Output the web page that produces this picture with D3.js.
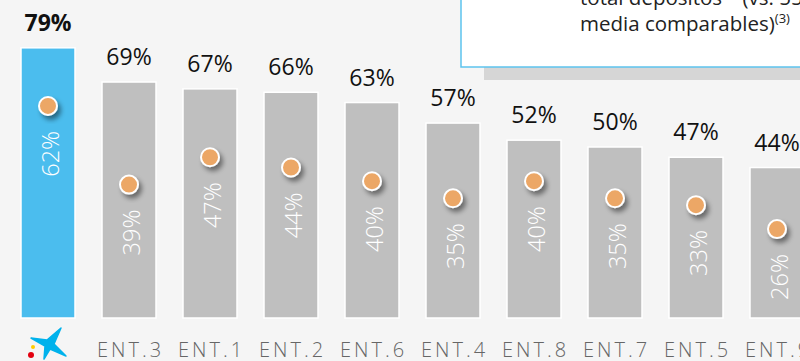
<!DOCTYPE html>
<html>
<head>
<meta charset="utf-8">
<script src="https://cdn.jsdelivr.net/npm/d3@7"></script>
<style>
  html, body { margin: 0; padding: 0; background: #f5f5f5; }
  svg { display: block; font-family: "Open Sans", "Noto Sans", sans-serif; }
</style>
</head>
<body>
<div id="chart"></div>
<script>
// data
const categories = ["CaixaBank", "ENT.3", "ENT.1", "ENT.2", "ENT.6", "ENT.4", "ENT.8", "ENT.7", "ENT.5", "ENT.9"];
const barValues = [79, 69, 67, 66, 63, 57, 52, 50, 47, 44];
const dotValues = [62, 39, 47, 44, 40, 35, 40, 35, 33, 26];

var width = 800, height = 361;

const svg = d3.select("#chart")
  .append("svg")
  .attr("width", width)
  .attr("height", height);

svg.append("rect")
  .attr("width", width)
  .attr("height", height)
  .attr("fill", "#f5f5f5");

// drop shadow for the dots
const defs = svg.append("defs");
defs.append("filter")
  .attr("id", "dotShadow")
  .attr("x", "-50%").attr("y", "-50%")
  .attr("width", "200%").attr("height", "200%")
  .append("feDropShadow")
  .attr("dx", 3)
  .attr("dy", 4)
  .attr("stdDeviation", 2.5)
  .attr("flood-color", "#000")
  .attr("flood-opacity", 0.45);

// scales
var x = d3.scaleBand()
  .domain(categories)
  .range([21, 804])
  .paddingInner(1 / 3)
  .paddingOuter(0);

var y = d3.scaleLinear()
  .domain([0, 100])
  .range([318, -24]);

const rows = categories.map((c, i) => ({ cat: c, bar: barValues[i], dot: dotValues[i], first: i === 0 }));

// callout box (top right, partly off screen)
svg.append("rect")
  .attr("x", 484).attr("y", -10)
  .attr("width", 400).attr("height", 90)
  .attr("fill", "#d6d6d6");

svg.append("rect")
  .attr("x", 461).attr("y", -10)
  .attr("width", 400).attr("height", 77)
  .attr("fill", "#fff")
  .attr("stroke", "#5cc3ee")
  .attr("stroke-width", 1.5);

const note = svg.append("text")
  .attr("font-size", 20.5)
  .attr("fill", "#222");
const line1 = note.append("tspan").attr("x", 580).attr("y", 5);
line1.append("tspan").text("total depósitos");
line1.append("tspan").attr("font-size", 13).attr("dy", -10).text("(2)");
line1.append("tspan").attr("dy", 10).text(" (vs. 55% de");
const line2 = note.append("tspan").attr("x", 580).attr("y", 31);
line2.append("tspan").text("media comparables)");
line2.append("tspan").attr("font-size", 13).attr("dy", -8).text("(3)");

// bars
svg.append("g")
  .selectAll("rect")
  .data(rows)
  .join("rect")
  .attr("x", d => x(d.cat))
  .attr("y", d => y(d.bar))
  .attr("width", x.bandwidth())
  .attr("height", d => y(0) - y(d.bar))
  .attr("fill", d => d.first ? "#4bbdee" : "#bfbfbf")
  .attr("stroke", "#fff")
  .attr("stroke-width", 1.5);

// value on top of each bar
svg.append("g")
  .selectAll("text")
  .data(rows)
  .join("text")
  .attr("x", d => x(d.cat) + x.bandwidth() / 2)
  .attr("y", d => y(d.bar) - 17)
  .attr("text-anchor", "middle")
  .attr("font-size", 23)
  .attr("font-weight", d => d.first ? "bold" : "normal")
  .attr("fill", "#111")
  .text(d => d.bar + "%");

// dots
svg.append("g")
  .selectAll("circle")
  .data(rows)
  .join("circle")
  .attr("cx", d => x(d.cat) + x.bandwidth() / 2)
  .attr("cy", d => y(d.dot))
  .attr("r", 9)
  .attr("fill", "#eca766")
  .attr("stroke", "#fff")
  .attr("stroke-width", 2)
  .attr("filter", "url(#dotShadow)");

// rotated dot values inside the bars
svg.append("g")
  .selectAll("text")
  .data(rows)
  .join("text")
  .attr("transform", d => `translate(${x(d.cat) + x.bandwidth() / 2},${y(d.dot) + 25}) rotate(-90)`)
  .attr("y", 10.5)
  .attr("text-anchor", "end")
  .attr("font-size", 23.5)
  .attr("font-weight", 300)
  .attr("fill", "#fff")
  .text(d => d.dot + "%");

// category labels
svg.append("g")
  .selectAll("text")
  .data(rows.filter(d => !d.first))
  .join("text")
  .attr("x", d => x(d.cat) + x.bandwidth() / 2 + 1.5)
  .attr("y", 357)
  .attr("text-anchor", "middle")
  .attr("font-size", 20)
  .attr("font-weight", 300)
  .attr("letter-spacing", 3)
  .attr("fill", "#666")
  .text(d => d.cat);

// logo under the first bar
const logo = svg.append("g")
  .attr("transform", `translate(${x(categories[0]) + x.bandwidth() / 2 + 2},344)`);
logo.append("path")
  .attr("d", "M-19,-6 L-3,-4 L11,-16 L4,0 L16,12 L0,5 L-6,15 L-5,2 Z")
  .attr("stroke", "#00b2ec")
  .attr("stroke-width", 1.5)
  .attr("stroke-linejoin", "round")
  .attr("fill", "#00b2ec");
logo.append("circle").attr("cx", -17).attr("cy", 3).attr("r", 2).attr("fill", "#ffcc00");
logo.append("circle").attr("cx", -19).attr("cy", 11).attr("r", 3).attr("fill", "#e3000f");
</script>
</body>
</html>
